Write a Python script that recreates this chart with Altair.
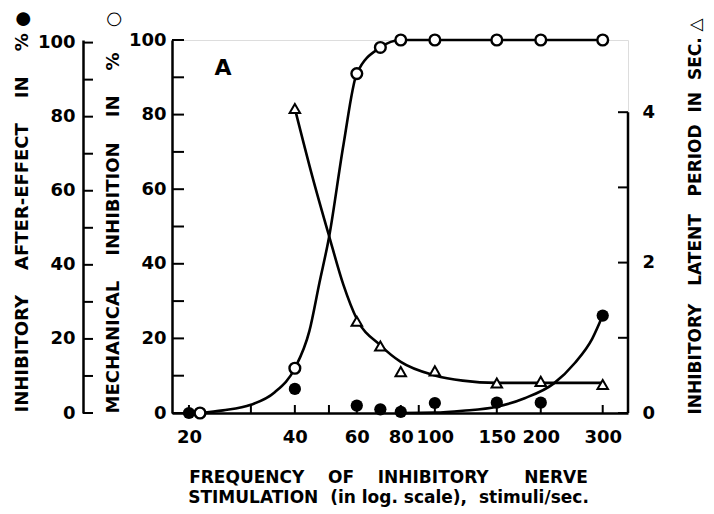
import altair as alt
import pandas as pd

# ---- data ----
freq_mech = [21.5, 40, 60, 70, 80, 100, 150, 200, 300]
mech_pct = [0, 12, 91, 98, 100, 100, 100, 100, 100]

freq_after = [20, 40, 60, 70, 80, 100, 150, 200, 300]
after_pct = [0, 6.5, 2, 1, 0.3, 2.7, 2.8, 2.8, 26.3]

freq_lat = [40, 60, 70, 80, 100, 150, 200, 300]
lat_sec = [4.05, 1.22, 0.89, 0.55, 0.56, 0.40, 0.42, 0.38]

# hand-drawn fitted curves
mech_curve_f = [21.5, 25, 30, 35, 40, 44, 47, 50, 55, 60, 70, 80, 300]
mech_curve_v = [0, 0.7, 2.2, 5.5, 12, 22, 35, 47, 72, 91, 98, 100, 100]

lat_curve_f = [40, 45, 50, 55, 60, 70, 80, 100, 120, 150, 200, 300]
lat_curve_v = [4.05, 3.12, 2.36, 1.7, 1.25, 0.9, 0.68, 0.5, 0.43, 0.4, 0.4, 0.4]

after_curve_f = [80, 100, 120, 150, 180, 218, 250, 280, 300]
after_curve_v = [0, 0.1, 0.6, 1.7, 4, 8, 13.5, 20, 26.3]

x_ticks = [20, 30, 40, 50, 60, 70, 80, 90, 100, 150, 200, 300]
x_labels = [20, 40, 60, 80, 100, 150, 200, 300]
pct_ticks = [0, 10, 20, 30, 40, 50, 60, 70, 80, 90, 100]
pct_labels = [0, 20, 40, 60, 80, 100]
sec_ticks = [0, 1, 2, 3, 4]
sec_labels = [0, 2, 4]

panel_label = ["A"]
panel_label_f = [25]
panel_label_v = [92.5]

# ---- geometry / style ----
W, H = 456, 373
FONT = "DejaVu Sans"
NB = "\u00a0"

xs = alt.Scale(type="log", domain=[17.9, 354], nice=False)
inner_s = alt.Scale(domain=[0, 100], nice=False, zero=True)
outer_s = alt.Scale(domain=[0, 100.7], nice=False, zero=True)
right_s = alt.Scale(domain=[0, 4.96], nice=False, zero=True)

x_axis = alt.Axis(
    values=x_labels, ticks=False, domain=True, domainColor="black", domainWidth=2.5,
    labelFont=FONT, labelFontSize=18, labelFontWeight="bold", labelColor="black",
    labelPadding=15, labelFlush=False, grid=False,
    title=["FREQUENCY" + NB * 4 + "OF" + NB * 4 + "INHIBITORY" + NB * 6 + "NERVE",
           "STIMULATION" + NB * 2 + "(in log. scale)," + NB * 2 + "stimuli/sec."],
    titleFont=FONT, titleFontSize=17, titleFontWeight="bold", titleColor="black",
    titleLineHeight=20, titleBaseline="alphabetic", titleAlign="center",
    titleX=216, titleY=69,
)

inner_axis = alt.Axis(
    orient="left", values=pct_labels, ticks=False, domain=True, domainColor="black",
    domainWidth=2.5, labelFont=FONT, labelFontSize=18, labelFontWeight="bold",
    labelColor="black", labelPadding=6, grid=False,
    title="MECHANICAL" + NB * 4 + "INHIBITION" + NB * 4 + "IN" + NB * 4 + "%" + NB * 4 + "\u25CB",
    titleFont=FONT, titleFontSize=18, titleFontWeight="bold", titleColor="black",
    titleAngle=270, titleAlign="left", titleBaseline="middle", titleX=-59, titleY=373,
)

outer_axis = alt.Axis(
    orient="left", offset=89, values=pct_labels, ticks=False, domain=True,
    domainColor="black", domainWidth=2.5, labelFont=FONT, labelFontSize=18,
    labelFontWeight="bold", labelColor="black", labelPadding=8, grid=False,
    title="INHIBITORY" + NB * 4 + "AFTER-EFFECT" + NB * 4 + "IN" + NB * 4 + "%" + NB + "\u25CF",
    titleFont=FONT, titleFontSize=18, titleFontWeight="bold", titleColor="black",
    titleAngle=270, titleAlign="left", titleBaseline="middle", titleX=-61, titleY=372,
)

right_axis = alt.Axis(
    orient="right", values=sec_labels, ticks=False, domain=False, labelFont=FONT,
    labelFontSize=18, labelFontWeight="bold", labelColor="black", labelPadding=14,
    grid=False,
    title="INHIBITORY" + NB * 3 + "LATENT" + NB * 3 + "PERIOD" + NB * 2 + "IN" + NB * 2 + "SEC." + NB + "\u25B3",
    titleFont=FONT, titleFontSize=17, titleFontWeight="bold", titleColor="black",
    titleAngle=270, titleAlign="left", titleBaseline="middle", titleX=67, titleY=374,
)

# ---- tables ----
mech_df = pd.DataFrame({"f": freq_mech, "v": mech_pct})
after_df = pd.DataFrame({"f": freq_after, "v": after_pct})
lat_df = pd.DataFrame({"f": freq_lat, "v": lat_sec})
mech_c = pd.DataFrame({"f": mech_curve_f, "v": mech_curve_v})
lat_c = pd.DataFrame({"f": lat_curve_f, "v": lat_curve_v})
after_c = pd.DataFrame({"f": after_curve_f, "v": after_curve_v})
xt_df = pd.DataFrame({"f": x_ticks})
pt_df = pd.DataFrame({"v": pct_ticks})
st_df = pd.DataFrame({"v": sec_ticks})
rdom_df = pd.DataFrame({"lo": [0], "hi": [4]})
lab_df = pd.DataFrame({"t": panel_label, "f": panel_label_f, "v": panel_label_v})

X = alt.X("f:Q", scale=xs, axis=x_axis)

lat_line = alt.Chart(lat_c).mark_line(color="black", strokeWidth=2.6, interpolate="monotone").encode(
    x=X, y=alt.Y("v:Q", scale=right_s, axis=None))
after_line = alt.Chart(after_c).mark_line(color="black", strokeWidth=2.6, interpolate="monotone").encode(
    x=X, y=alt.Y("v:Q", scale=outer_s, axis=None))
mech_line = alt.Chart(mech_c).mark_line(color="black", strokeWidth=2.6, interpolate="monotone").encode(
    x=X, y=alt.Y("v:Q", scale=inner_s, axis=inner_axis))

after_pts = alt.Chart(after_df).mark_circle(color="black", size=150, opacity=1).encode(
    x=X, y=alt.Y("v:Q", scale=outer_s, axis=outer_axis))
lat_pts = alt.Chart(lat_df).mark_point(shape="triangle-up", filled=True, fill="white",
                                        stroke="black", strokeWidth=2, size=110, opacity=1).encode(
    x=X, y=alt.Y("v:Q", scale=right_s, axis=right_axis))
mech_pts = alt.Chart(mech_df).mark_point(shape="circle", filled=True, fill="white",
                                          stroke="black", strokeWidth=2.4, size=115, opacity=1).encode(
    x=X, y=alt.Y("v:Q", scale=inner_s, axis=None))

x_tick_rules = alt.Chart(xt_df).mark_rule(color="black", strokeWidth=2).encode(
    x=X, y=alt.value(H), y2=alt.value(H - 8))
inner_tick_rules = alt.Chart(pt_df).mark_rule(color="black", strokeWidth=2).encode(
    y=alt.Y("v:Q", scale=inner_s, axis=None), x=alt.value(0), x2=alt.value(12))
outer_tick_rules = alt.Chart(pt_df).mark_rule(color="black", strokeWidth=2).encode(
    y=alt.Y("v:Q", scale=outer_s, axis=None), x=alt.value(-89), x2=alt.value(-79))
right_tick_rules = alt.Chart(st_df).mark_rule(color="black", strokeWidth=2).encode(
    y=alt.Y("v:Q", scale=right_s, axis=None), x=alt.value(W), x2=alt.value(W - 10))
right_domain = alt.Chart(rdom_df).mark_rule(color="black", strokeWidth=2.5).encode(
    y=alt.Y("lo:Q", scale=right_s, axis=None), y2="hi:Q", x=alt.value(W))

panel_text = alt.Chart(lab_df).mark_text(font=FONT, fontSize=22, fontWeight="bold",
                                         color="black", baseline="middle", align="center").encode(
    x=X, y=alt.Y("v:Q", scale=inner_s, axis=None), text="t:N")

chart = alt.layer(
    lat_line, after_line, mech_line,
    after_pts, lat_pts, mech_pts,
    x_tick_rules, inner_tick_rules, outer_tick_rules, right_tick_rules, right_domain,
    panel_text,
).resolve_scale(y="independent").properties(
    width=W, height=H,
    autosize=alt.AutoSizeParams(type="none"),
    padding={"left": 164, "top": 32, "right": 78, "bottom": 100},
).configure_view(stroke=None).configure(background="white")

chart.save("out.html", embed_options={"renderer": "svg", "actions": False})
